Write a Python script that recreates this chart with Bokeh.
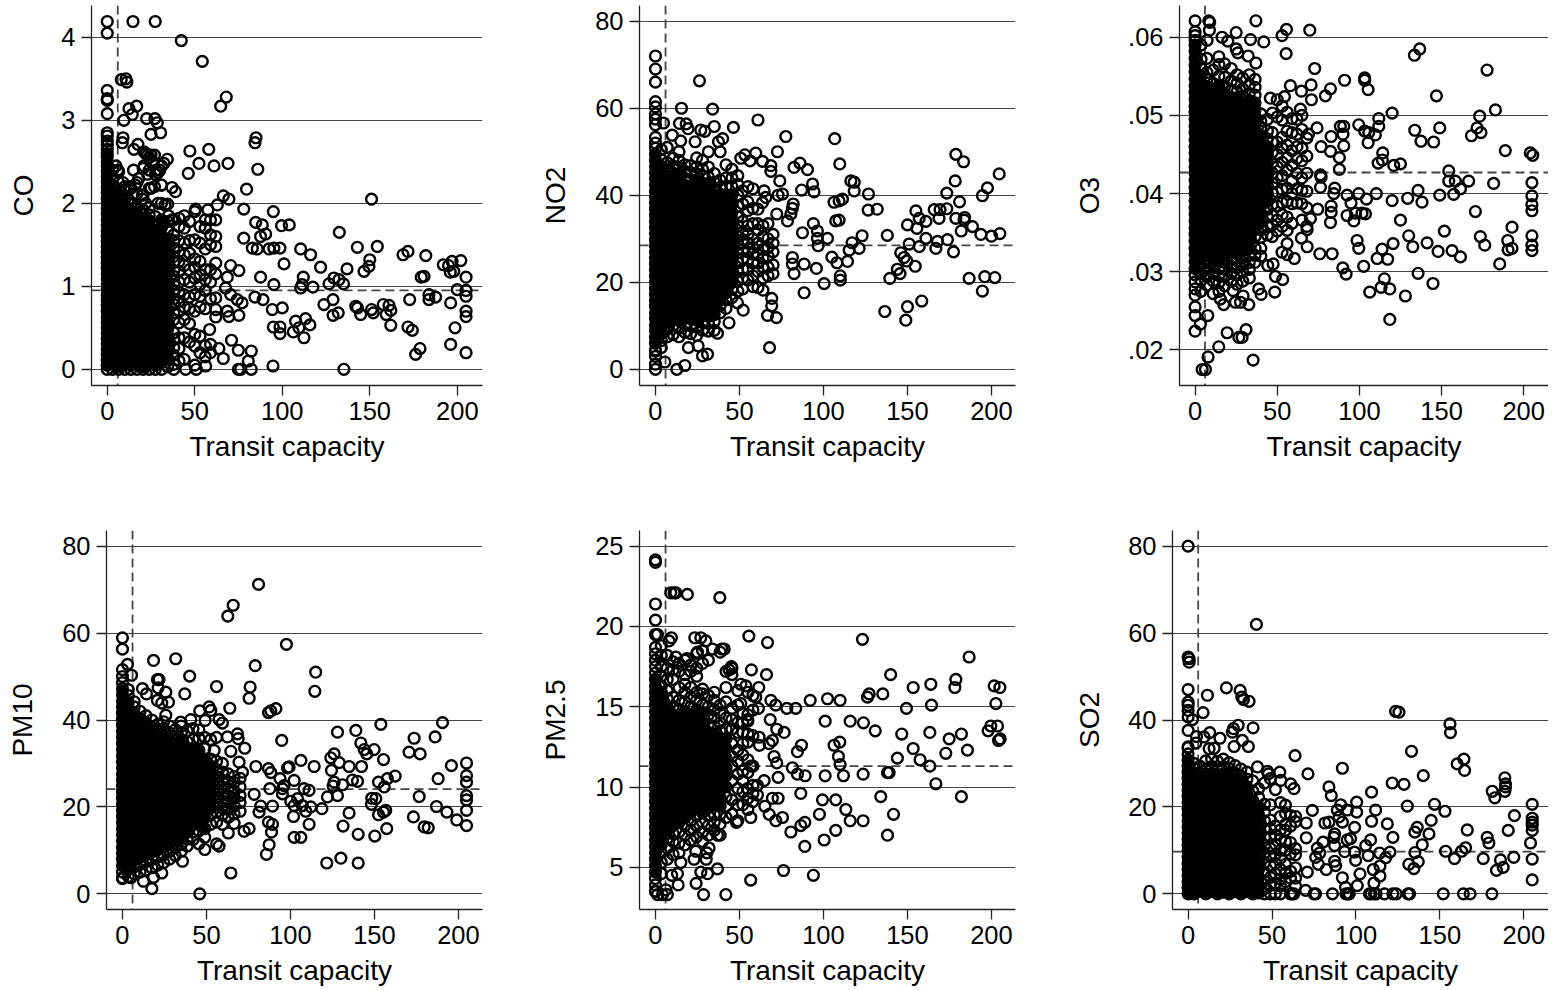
from bokeh.plotting import figure
from bokeh.layouts import column, row
from bokeh.embed import file_html
from bokeh.resources import INLINE
from bokeh.models import Span, FixedTicker

INK = "#000000"
XLABEL = "Transit capacity"
XT = [0, 50, 100, 150, 200]
FONT = "Liberation Sans"

# ---------- CO ----------
CO_x = [0,0,14.7,27.4,42.3,54.3,68,64.8,8,10.7,11.2,0,0,0,0,12.4,16.8,14.3,9.5,22.5,27.2,28.6,30.5,25,0,0,9,8.6,17.5,15.2,47.2,58,85,84.4,52.4,61,69,46.3,86,34.3,32.4,79.6,37,39,151,66.3,69.5,62.9,78,94.9,57.5,50.5,99.6,104,84.8,88.6,90.5,87.6,132.6,78,82.9,85.7,92.4,95.2,98.7,110.5,116.2,101,121.9,142.9,154.3,150,149.5,146.7,137,169,171.8,182,192,195,197,202,196,198,205,179.4,181,112,87.6,95.2,70.5,75.2,68.6,67.6,110.5,111.4,117.5,126.7,129.5,132.4,135,200,205,205,187.6,183.8,183.8,172.8,84.4,89,74.3,77,70.5,94.3,100,123.8,129,142,143,144.8,151,152,157.7,161,162,159.4,129,132,196.2,205,205,75.2,69.5,68.6,94.9,98.7,98.7,106.3,107.6,109.5,113.3,115.8,112.4,162,171.8,174.3,198.7,71,74.9,82.3,58.5,178.7,176.2,196.2,205,66.3,63.8,80.6,94.7,74.9,76.2,82.3,135.2,56.2,50.9,44.8,38,5,6,9,11,13,15,16,18,20,21,22,23,24,25,26,27,28,29,30,31,21,23,20,22,25,27,29,33,35,37,12,14,16,24]
CO_y = [4.19,4.05,4.19,4.19,3.96,3.71,3.28,3.17,3.49,3.5,3.46,3.36,3.26,3.24,3.08,3.14,3.17,3.07,3,3.02,3.02,2.97,2.85,2.83,2.85,2.81,2.79,2.73,2.71,2.65,2.63,2.65,2.79,2.73,2.48,2.45,2.48,2.36,2.41,2.53,2.48,2.17,2.19,2.14,2.05,2.09,2.05,1.98,1.93,1.9,1.92,1.93,1.73,1.74,1.77,1.74,1.63,1.6,1.65,1.58,1.46,1.45,1.45,1.46,1.46,1.45,1.38,1.27,1.23,1.47,1.48,1.32,1.24,1.18,1.21,1.38,1.42,1.37,1.26,1.25,1.3,1.31,1.17,1.18,1.11,1.11,1.12,1.11,1.11,1.02,1.25,1.19,1.11,.98,.98,1.02,.99,1.03,1.1,1.08,1.03,.96,.95,.88,.87,.9,.84,.84,.87,.84,.84,.8,.9,.72,.74,.78,.84,.76,.74,.66,.72,.68,.78,.77,.71,.66,.65,.68,.8,.7,.635,.65,.635,.7,.51,.51,.43,.45,.58,.5,.61,.535,.38,.53,.51,.47,.5,.35,.23,.22,.48,.25,.18,.3,.2,.13,.25,.1,.04,0,0,0,0,.04,0,0,0,2.45,2.4,2.25,2.15,2.2,2.4,2.22,2.3,2.1,2.62,2.6,2.58,2.55,2.58,2.5,2.58,2.4,2.37,2.4,2.22,2.45,2.35,2.05,2,2.18,2.2,2,1.98,1.85,1.8,2,2,1.95,1.95]
CO_col_x = [0,3,6.5,10,13.5,17,20.5,24,27.5,31,34.5,38,41,44,47,50,53,56,59,62]
CO_col_y = [
 [0,.05,.11,.18,.24,.31,.37,.44,.5,.57,.63,.7,.76,.83,.89,.96,1.02,1.09,1.15,1.22,1.28,1.35,1.41,1.48,1.54,1.61,1.67,1.74,1.8,1.87,1.93,2,2.06,2.13,2.19,2.26,2.32,2.39,2.45,2.5,2.56,2.6,2.65,2.7,2.75],
 [0,.09,.17,.26,.34,.43,.51,.6,.68,.77,.85,.94,1.02,1.11,1.19,1.28,1.36,1.45,1.53,1.62,1.7,1.79,1.87,1.96,2.04,2.13,2.21,2.3,2.4],
 [0,.04,.13,.21,.3,.38,.47,.55,.64,.72,.81,.89,.98,1.06,1.15,1.23,1.32,1.4,1.49,1.57,1.66,1.74,1.83,1.91,2,2.08,2.17,2.25,2.38],
 [0,.09,.16,.26,.33,.44,.5,.61,.67,.78,.84,.95,1.01,1.12,1.18,1.29,1.35,1.46,1.52,1.63,1.69,1.8,1.86,1.97,2.05,2.15,2.2],
 [0,.05,.14,.2,.31,.37,.48,.54,.65,.71,.82,.88,.99,1.05,1.16,1.22,1.33,1.39,1.5,1.56,1.67,1.73,1.84,1.9,2,2.18],
 [0,.08,.17,.25,.35,.42,.52,.59,.69,.76,.86,.93,1.03,1.1,1.2,1.27,1.37,1.44,1.54,1.61,1.71,1.78,1.88,1.96,2.12,2.25],
 [0,.03,.12,.21,.29,.39,.46,.56,.63,.73,.8,.9,.97,1.07,1.14,1.24,1.31,1.41,1.48,1.58,1.65,1.75,1.82,1.92,2.1,2.42],
 [0,.09,.16,.26,.33,.43,.5,.6,.67,.77,.84,.94,1.01,1.11,1.18,1.28,1.35,1.45,1.52,1.62,1.69,1.79,1.86,2.18,2.4],
 [0,.05,.14,.22,.31,.38,.48,.55,.65,.72,.82,.89,.99,1.06,1.16,1.23,1.33,1.4,1.5,1.57,1.67,1.74,1.84,2.35],
 [0,.08,.18,.25,.35,.42,.52,.59,.69,.76,.86,.93,1.03,1.1,1.2,1.27,1.37,1.44,1.54,1.61,1.71,1.8,2,2.22,2.45],
 [.03,.13,.21,.31,.38,.48,.55,.65,.72,.82,.89,.99,1.06,1.16,1.23,1.33,1.4,1.5,1.57,1.67,1.78,1.99],
 [.06,.17,.26,.36,.44,.6,.68,.78,.85,.95,1.02,1.12,1.19,1.29,1.36,1.46,1.55,1.62,1.8],
 [.1,.25,.38,.56,.7,.82,.93,1.05,1.18,1.3,1.42,1.55,1.72,1.82],
 [.12,.38,.6,.75,.9,1.08,1.25,1.38,1.52,1.7,1.85],
 [.33,.55,.73,.87,1.05,1.2,1.4,1.55,1.78],
 [.05,.28,.42,.7,.9,1.1,1.23,1.33,1.56,1.9],
 [.2,.4,.75,.88,1.02,1.14,1.3,1.52,1.72],
 [.15,.28,.73,.95,1.08,1.2,1.45,1.7,1.8],
 [.2,.3,.85,1.05,1.2,1.5,1.62,1.8],
 [.63,.72,.86,1.15,1.28,1.48,1.6,1.8],
]

# ---------- NO2 ----------
NO2_x = [0,0,0,0,0,0,0,0,4.8,15.5,34,26.2,61,46.4,35,14.3,18.3,19.4,27,29.4,10,15,23.6,40,37.5,77.6,106.7,178.8,183.4,72.6,59.7,53.2,50.8,56.3,63.7,68.7,68.7,82.5,86,90.5,109.7,204.6,74,178.4,116.3,118.3,118.3,93.5,94.4,87,126.8,197.6,194.6,173.4,75.6,73,64.7,63.7,65.7,106.3,109.3,111.3,181,82,81.5,132,126.6,155,165.9,169.4,173.4,168.8,72.2,80.6,78.6,107.3,109.3,157,161,178.8,184,183.7,150,155.6,94,87.5,96.4,182,188.7,193.7,200,205,138,123,102.4,96.4,161,151,157,117,167.9,173.8,166.9,121.2,115.3,96.8,177.4,146,148,149.6,154.6,144,145.6,139.5,105,108,114.3,81.5,81.5,88.5,95.8,82.5,110,110,100.4,186.7,196,202,194.6,88.5,158.5,150,149,136.5,69.2,69.2,66.7,72,52.2,48.8,43.8,36.9,67.9,19.6,25.4,28,31,17.5,12.7,5.6,0,0,0]
NO2_y = [72,69,66,61.5,60.3,58.7,57.5,56.2,56.6,60,59.8,66.3,57.3,55.6,55.8,56.5,56.4,55.3,55,54.7,53.8,52.5,52.3,53,52.3,53.5,53,49.4,47.7,50,49.7,49.3,48.5,47.9,47.8,46.8,45.5,46.4,47.4,45.9,47.2,44.9,43.3,43.3,43.3,43,41,42.6,40.8,41.2,40.3,41.7,39.9,40.5,40.3,40,41,38.3,39.5,38.4,38.7,39.1,38.5,38,37,36.8,36.6,36.4,36.7,36.7,36.9,34.7,35.7,35.7,34.1,34.1,34.3,34.7,34,34.7,34.9,34.3,33.2,32.4,33.5,31.4,31.8,31.8,32.8,31,30.6,31.2,30.8,30.7,30.1,30.1,30.1,28.8,28.2,29.1,29.4,29.8,27.8,27.8,27.4,28.4,27,26.8,25.7,24.9,23.7,23,22,20.9,25.8,24.5,24.8,25.7,24.2,24.2,23.2,22,21.5,20.5,19.7,20.9,21.3,21.1,18,17.6,15.7,14.4,11.3,13.3,16.3,14.6,12.4,11.9,13.6,15.3,10.7,8.3,5,5,5.4,3.1,3.5,.9,0,1.7,0,1.2,4.2]
NO2_col_x = [0,3.5,7,10.5,14,17.5,21,24.5,28,31.5,35,38.5,42,45.5,49,52,55,58,61,64,67,70]
NO2_col_y = [
 [3,4.5,6,7.4,8.9,10.2,11.7,13,14.5,15.8,17.2,18.6,20,21.4,22.8,24.2,25.6,27,28.4,29.8,31.2,32.6,34,35.4,36.8,38.2,39.6,41,42.4,43.8,45.2,46.6,48,49.4,50.8,52,53.3],
 [5,6.6,8.2,9.8,11.4,13,14.6,16.2,17.8,19.4,21,22.6,24.2,25.8,27.4,29,30.6,32.2,33.8,35.4,37,38.6,40.2,41.8,43.4,45,46.6,48.2,50.5],
 [7.5,9.2,10.7,12.3,13.9,15.5,17.1,18.7,20.3,21.9,23.5,25.1,26.7,28.3,29.9,31.5,33.1,34.7,36.3,37.9,39.5,41.1,42.7,44.3,45.9,47.5,51],
 [8,10,11.5,13.1,14.7,16.3,17.9,19.5,21.1,22.7,24.3,25.9,27.5,29.1,30.7,32.3,33.9,35.5,37.1,38.7,40.3,41.9,43.5,45.1,46.7,48.5],
 [7.5,9.5,11.2,12.8,14.4,16,17.6,19.2,20.8,22.4,24,25.6,27.2,28.8,30.4,32,33.6,35.2,36.8,38.4,40,41.6,43.2,44.8,46.4,48,50],
 [8.5,10.3,11.9,13.5,15.1,16.7,18.3,19.9,21.5,23.1,24.7,26.3,27.9,29.5,31.1,32.7,34.3,35.9,37.5,39.1,40.7,42.3,43.9,45.5,47],
 [8.2,10,11.6,13.2,14.8,16.4,18,19.6,21.2,22.8,24.4,26,27.6,29.2,30.8,32.4,34,35.6,37.2,38.8,40.4,42,43.6,45.2,46.8],
 [7.8,9.7,11.3,12.9,14.5,16.1,17.7,19.3,20.9,22.5,24.1,25.7,27.3,28.9,30.5,32.1,33.7,35.3,36.9,38.5,40.1,41.7,43.3,44.9,46.5,48.6],
 [9,10.8,12.4,14,15.6,17.2,18.8,20.4,22,23.6,25.2,26.8,28.4,30,31.6,33.2,34.8,36.4,38,39.6,41.2,42.8,44.4,46,48],
 [8.8,10.6,12.2,13.8,15.4,17,18.6,20.2,21.8,23.4,25,26.6,28.2,29.8,31.4,33,34.6,36.2,37.8,39.4,41,42.6,44.2,46.5,50],
 [9,11,12.6,14.2,15.8,17.4,19,20.6,22.2,23.8,25.4,27,28.6,30.2,31.8,33.4,35,36.6,38.2,39.8,41.4,43,45],
 [13,14.6,16.2,17.8,19.4,21,22.6,24.2,25.8,27.4,29,30.6,32.2,33.8,35.4,37,38.6,40.2,41.8,43.5,50],
 [14,16,17.6,19.2,20.8,22.4,24,25.6,27.2,28.8,30.4,32,33.6,35.2,36.8,38.4,40,42,44,47],
 [16.5,18.4,20,21.6,23.2,24.8,26.4,28,29.6,31.2,32.8,34.4,36,38,40,42,44,46],
 [18,20.2,22.5,24.5,26.8,28.7,30.5,33,35,37.5,40,42.5,44.5],
 [18.5,21,23,25.5,27.5,29.8,31.5,34,38,41],
 [20.5,23,25.2,27,29,31,33,36.5,38.5,42],
 [19,21.5,24.5,26.5,28,30,33.5,37,41.5],
 [18.8,22.5,24.5,26.3,29,32,33.5,36.8],
 [18.2,21,23.5,25.5,27.5,30.5,33],
 [21.5,23.5,26,28,30,33.5],
 [22,24,27,29,31],
]

# ---------- O3 (read in thousandths) ----------
O3_x = [0,8.3,8.9,8.7,37,55.6,69.8,52.9,25,16.4,19.9,33.7,41.8,7.3,25,26,32.3,55.4,37,136.7,133.5,177.7,72.8,91,103.2,103.2,105.3,58,70.6,64.7,82.4,79.3,70.8,45.8,54.4,146.9,182.8,119.9,111.8,173.2,64.1,99.6,88.4,90.5,111.8,74.2,103.2,105.7,109.7,133.7,148.9,171.6,174,168.2,90,82.8,69,137.5,145.2,105.3,90.5,76.7,82.4,87.8,114.2,188.8,204,205.5,114,111.4,120.9,125,87.8,154.4,154.4,158.4,166.5,181.7,205,161.5,135.7,85,84.4,76.3,76.7,76.3,99.6,110.3,92.5,148.9,157.4,205,129.4,138.1,104.3,94.9,119.9,205,82.8,74.6,82.8,82.4,92.5,97.6,101.6,103.7,96.6,170.6,205,125,70.2,68.2,192.9,151.7,130,173.6,205,98.6,190.3,64.7,56,56,120.5,99.6,113.8,132.5,141.2,176.3,205,192.9,190.5,205,68.2,75.9,83.4,147.9,156.4,161.5,110.8,117.2,60.4,56,52.9,47.5,44.2,185.4,89.9,91.9,102.6,135.7,48.9,53.3,115.2,113.2,118.5,106.3,144.8,128,48.5,38.7,40.2,118.5,23.1,29.2,32.7,27.6,24.5,17.4,15.4,0,0,7.7,3.2,0,19.5,31,26.6,28.6,14.4,7.9,4.3,6.3,35.3]
O3_y = [62.1,62.1,61.9,60.9,62.1,61,60.9,60.2,60.6,60,59.5,59.7,59.4,59.6,58.5,58,57.6,57.9,56.7,58.5,57.7,55.8,56,54.5,54.8,54.5,53.3,53.8,53.9,53.1,53.4,52.5,52,52.2,52.4,52.5,50.7,50.3,49.6,49.9,50.8,48.8,48.6,48.6,48.6,48.4,48,47.8,47.5,48.1,48.4,48.4,47.8,47.4,47.6,47.3,47.6,46.7,46.6,46.5,46.1,46,45.4,44.6,45.2,45.5,45.2,44.9,44.3,43.9,43.6,43.8,43.1,42.9,41.6,41.6,41.6,41.3,41.4,40.6,40.4,40.7,40,42.4,42.1,40.8,40,40,39.8,39.8,39.9,39.7,39.4,38.9,39.3,38.8,39.1,38.6,38.4,38,37.6,36.3,37.2,37.5,37.5,37.4,36.5,37.7,37.8,36.6,36.8,35.4,35.7,35.2,34.6,34.5,34.6,34,34,34.3,35.3,33.6,33.6,33,32.9,33.2,33.7,33.4,33.4,33,32.8,32.7,33.2,32.3,32.3,32.6,32.7,31.9,31.7,31.6,31.7,32.2,32.5,31,30.8,31,30.5,29.7,30.7,29.8,29.4,29,29.1,28,27.8,27.4,28.5,26.9,27.4,27.8,27.1,23.9,27.6,26.9,25.8,26.1,26.1,25.8,26.5,25.5,24.4,24.4,23.3,22.4,22.2,22.6,21.6,21.6,20.4,19.1,17.5,17.5,18.7]
O3_col_x = [0,3.6,7.2,11,14.5,18,22,25.5,29,33,36.5,40,44,47,50,53,56,59,62,65,68]
O3_col_y = [
 [27,27.8,28.7,29.6,30.4,31.3,32.2,33,33.9,34.8,35.6,36.5,37.4,38.2,39.1,40,40.8,41.7,42.6,43.4,44.3,45.2,46,46.9,47.8,48.6,49.5,50.4,51.2,52.1,53,53.8,54.7,55.6,56.4,57.3,58.2,59,59.6,60.2,60.7],
 [27.5,28.9,29.8,30.8,31.7,32.6,33.5,34.4,35.3,36.2,37.1,38,38.9,39.8,40.7,41.6,42.5,43.4,44.3,45.2,46.1,47,47.9,48.8,49.7,50.6,51.5,52.4,53.3,54.2,55.1,56,57.2,59],
 [28.3,29.4,30.3,31.2,32.1,33,33.9,34.8,35.7,36.6,37.5,38.4,39.3,40.2,41.1,42,42.9,43.8,44.7,45.6,46.5,47.4,48.3,49.2,50.1,51,51.9,52.8,53.7,54.6,55.5,57.3],
 [27.2,28.8,29.8,30.7,31.6,32.5,33.4,34.3,35.2,36.1,37,37.9,38.8,39.7,40.6,41.5,42.4,43.3,44.2,45.1,46,46.9,47.8,48.7,49.6,50.5,51.4,52.3,53.2,54.1,55.8],
 [27.5,28.6,29.5,30.4,31.3,32.2,33.1,34,34.9,35.8,36.7,37.6,38.5,39.4,40.3,41.2,42.1,43,43.9,44.8,45.7,46.6,47.5,48.4,49.3,50.2,51.1,52,52.9,53.8,55,56.5,57.5],
 [28.2,29.4,30.3,31.2,32.1,33,33.9,34.8,35.7,36.6,37.5,38.4,39.3,40.2,41.1,42,42.9,43.8,44.7,45.6,46.5,47.4,48.3,49.2,50.1,51,51.9,52.8,53.7,54.9,56.6],
 [28.8,29.8,30.7,31.6,32.5,33.4,34.3,35.2,36.1,37,37.9,38.8,39.7,40.6,41.5,42.4,43.3,44.2,45.1,46,46.9,47.8,48.7,49.6,50.5,51.4,52.3,53.2,54.4,56],
 [28.4,29.6,30.5,31.4,32.3,33.2,34.1,35,35.9,36.8,37.7,38.6,39.5,40.4,41.3,42.2,43.1,44,44.9,45.8,46.7,47.6,48.5,49.4,50.3,51.2,52.1,53,54.1,55.2],
 [28.8,30,30.9,31.8,32.7,33.6,34.5,35.4,36.3,37.2,38.1,39,39.9,40.8,41.7,42.6,43.5,44.4,45.3,46.2,47.1,48,48.9,49.8,50.7,51.6,52.5,53.4,54.8],
 [29.2,30.3,31.2,32.1,33,33.9,34.8,35.7,36.6,37.5,38.4,39.3,40.2,41.1,42,42.9,43.8,44.7,45.6,46.5,47.4,48.3,49.2,50.1,51,51.9,52.8,53.9,55.2],
 [31.2,32.1,33,34.5,35.4,36.3,37.2,38.1,39,39.9,40.8,41.7,42.6,43.5,44.4,45.3,46.2,47.1,48,48.9,49.8,50.7,51.6,52.6,53.6,54.6],
 [32,33,34.4,35.4,36.4,37.4,38.4,39.4,40.4,41.4,42.4,43.4,44.4,45.4,46.4,47.4,48.4,49.3,50.2],
 [34.7,35.8,37,38,39,40,41,42,43,44,45,46,47,48,49.5],
 [34.5,36,37.2,38.6,40,41.3,42.6,44,45.3,46.6,47.8,50.3],
 [35.2,36.6,38.4,40.2,42,43.4,45,46.6,49.8,52],
 [35.8,37.3,38.8,40.5,42.3,44,45.8,47.2,49.4,51.2],
 [37,39,40.7,43,44.6,46.2,48,50.4],
 [36.2,38.7,40,41.6,43.6,45.5,47.8,49.6],
 [38.8,40.6,42.6,44.5,46,47.6,49.5],
 [36.6,38.7,40.4,42,44.2,45.8,48.2,50],
 [35.8,38.2,40.3,42.6,44.8,47.1],
]

# ---------- PM10 ----------
PM10_x = [81,65.9,62.7,0,0,97.6,18.5,31.7,79,3,0,115,5.4,40,20.8,21.8,21.2,56,76,75.4,114.5,37.1,25.8,11.9,14.3,20.8,23.4,27.4,63.9,91.3,88.3,86.9,51.6,52.6,46,40.7,49.2,25.8,57.5,59.5,34.7,153.8,190.5,138.9,128,68.5,68.9,94.8,62.5,173.6,186.1,141.9,72.8,143.9,149.8,145.4,170.6,177.2,126,124,106.2,155.4,204.8,54.6,64.5,69.4,129,195.8,134.9,142.3,114.1,79.4,99.2,98.2,86.9,88.3,124.4,71.4,204.8,162.3,157.7,187.9,93.8,102.2,136.9,139.9,152.4,126,204.8,131,125.4,155.8,96.2,95.2,87.7,108.1,111.1,78.4,95.2,176.6,122,128,204.8,204.8,148.4,150.8,148.2,104.2,100.2,89.3,82.3,102.2,107.1,112.1,118.7,186.9,109.1,81.3,156.7,155.4,134.9,152.4,193.1,204.8,101.8,173.2,199,86.9,89.3,111.1,131.3,204.8,179.6,182,157.3,75.4,72.4,88.7,140.3,150.2,102.2,106.2,87.3,85.7,57.5,130,121.6,140.3,64.5,35.7,23.4,12.5,18.5,17.5,46,0,5]
PM10_y = [71.2,66.4,63.9,58.9,56.3,57.4,53.7,54.1,52.5,52.8,51.6,51,50.3,50.1,49.3,49.3,47.4,47.7,47.6,45,46.6,46,46.4,47.2,46,44.5,43.9,44.1,42.7,42.6,42.1,41.7,43,42.2,42.1,40.1,39.9,41.1,40.1,39.3,39.5,39,39.4,37.6,37.2,36.8,35.7,35.3,36.1,35.8,36.1,34.7,33.5,33.2,33.2,32.2,32.6,32.2,32.2,31.3,30.7,30.9,30.1,33,32.8,30.3,30.2,29.5,29.3,29.3,29.3,29.3,29.2,29,28.8,27.9,28.4,28,27.2,27.1,26.5,26.5,26.5,26.1,26.2,25.9,25.7,25.7,25.7,25.1,24.8,24.6,24.9,24.2,24.2,24.2,23.8,22.9,23,22.4,22.3,22.6,22.6,21.6,22,21.9,20.6,21.9,21.3,20.2,20.2,20.3,20.3,20,19.6,20.1,19,18.8,19.2,18.8,18.6,18.2,18.8,19.2,17.8,17.7,17,16.5,16,16,15.6,15.7,15.4,15.2,15,15,14.4,14.2,13.7,13.3,13,13,11.3,9.1,11,8.2,7.1,7.1,4.8,7.5,4.8,2.9,3.8,1.2,0,3.7,3.7]
PM10_col_x = [0,3.5,7,10.5,14,17.5,21,24.5,28,31.5,35,38.5,42,45.5,49,52.5,56,59.5,63,66.5,70]
PM10_col_y = [
 [3.5,5,6.5,8,9.4,10.8,12.2,13.6,15,16.4,17.8,19.2,20.6,22,23.4,24.8,26.2,27.6,29,30.4,31.8,33.2,34.6,36,37.4,38.8,40.2,41.6,43,44.4,45.8,47.2,48.6,50],
 [4,5.6,7.2,8.8,10.4,12,13.6,15.2,16.8,18.4,20,21.6,23.2,24.8,26.4,28,29.6,31.2,32.8,34.4,36,37.6,39.2,40.8,42.4,44,45.6,47],
 [4.6,6.2,7.8,9.4,11,12.6,14.2,15.8,17.4,19,20.6,22.2,23.8,25.4,27,28.6,30.2,31.8,33.4,35,36.6,38.2,39.8,41.4,43,44.2],
 [5,6.8,8.4,10,11.6,13.2,14.8,16.4,18,19.6,21.2,22.8,24.4,26,27.6,29.2,30.8,32.4,34,35.6,37.2,38.8,40.4,42],
 [5.5,7.4,9,10.6,12.2,13.8,15.4,17,18.6,20.2,21.8,23.4,25,26.6,28.2,29.8,31.4,33,34.6,36.2,37.8,39.4,41],
 [6,8,9.6,11.2,12.8,14.4,16,17.6,19.2,20.8,22.4,24,25.6,27.2,28.8,30.4,32,33.6,35.2,36.8,38.4,40],
 [6.6,8.5,10.2,11.8,13.4,15,16.6,18.2,19.8,21.4,23,24.6,26.2,27.8,29.4,31,32.6,34.2,35.8,37.4,39],
 [7.2,9,10.8,12.4,14,15.6,17.2,18.8,20.4,22,23.6,25.2,26.8,28.4,30,31.6,33.2,34.8,36.4,38,39.6],
 [8,9.8,11.4,13,14.6,16.2,17.8,19.4,21,22.6,24.2,25.8,27.4,29,30.6,32.2,33.8,35.4,37,38.6],
 [8.8,10.6,12.2,13.8,15.4,17,18.6,20.2,21.8,23.4,25,26.6,28.2,29.8,31.4,33,34.6,36.2,37.8],
 [9.8,11.4,13,14.6,16.2,17.8,19.4,21,22.6,24.2,25.8,27.4,29,30.6,32.2,33.8,35.4,37,38.6],
 [11,12.6,14.2,15.8,17.4,19,20.6,22.2,23.8,25.4,27,28.6,30.2,31.8,33.4,35,37.5],
 [12.5,14.2,15.8,17.4,19,20.6,22.2,23.8,25.4,27,28.6,30.2,31.8,33.4,35.5,38],
 [11.5,14.5,16.5,18.1,19.7,21.3,22.9,24.5,26.1,27.7,29.3,30.9,33,35.8,37.7],
 [10.2,13,15,17.5,19.4,21,22.6,24.2,25.8,27.4,29,31,33.4,36],
 [16,18.2,19.8,21.4,23,24.6,26.2,27.8,29.4,31,35.5],
 [11.5,16.5,18.8,20.6,22.2,23.8,25.4,27,28.6,30.5,36],
 [16,18.2,19.8,21.4,23,24.6,26.2,28,30],
 [14,17.6,19.4,21,22.6,24.2,25.8,27.6],
 [16.2,18.4,20.2,22,23.6,25.6,27],
 [19,21,22.6,24.6,26.6],
]

# ---------- PM2.5 ----------
PM25_x = [0,0,9.1,11.1,12.1,19,38.3,0,0,0,1.2,9.5,8.1,55.6,66.7,123.2,23.4,27,30,33.9,39.5,40.9,186.7,12.1,18.7,25,45.2,43.8,57.1,66.1,140,178.8,163.9,178.2,201.6,205,153.4,61.5,53.8,50.8,127.2,126.2,135.3,102.4,109.9,92.1,68.7,71.6,78.2,83.5,149.4,164.3,202.6,61.3,59.7,50.8,68.3,101,115.9,123.8,54.8,203.6,199.6,198,130.8,163.3,146.6,182.1,76.6,72.2,174.8,205.2,204.2,61.7,61.9,109.7,106.3,86.9,69.6,67.7,84.5,185.7,153.4,172.8,108.9,70.6,144,157.5,109.9,72.2,56.7,163.3,81.5,84.5,89.1,123.6,101,111.9,138.1,139.1,73,64.7,60.7,166.9,182.1,134.1,86.5,99.4,107.3,54.8,69.6,73,60.7,65.1,113.3,141.7,97.6,75.6,67.7,56.7,88.9,86.5,115.9,123.6,71.6,48.2,107.3,80.6,138.1,100.4,88.9,36.9,31.9,30.6,24,30.2,23,15.1,36.9,76.2,94,56.7,27,31,13.1,9.7,24.2,13.5,28.6,41.9,1.2,4.2,7.1,0,6.2]
PM25_y = [24.15,24,22.1,22.1,22.1,22,21.8,21.4,20.4,19.5,19.5,19.3,19.1,19.4,19,19.2,19.3,19.3,19.1,18.6,18.6,18.6,18.1,18.1,18,18.4,17.5,17.3,17.3,17,17,16.7,16.4,16.2,16.3,16.2,16.2,16.2,16.3,16.4,15.8,15.6,15.8,15.5,15.4,15.4,15.4,15.1,14.9,14.9,14.9,15.1,15.2,14.9,15.6,15.2,14.2,14.1,14.1,14,14.2,13.8,13.8,13.5,13.5,13.4,13.3,13.3,13.4,13.6,13,13,12.9,13.1,12.6,12.8,12.6,12.6,12.9,12.7,12.2,12.3,12.4,12.1,11.9,11.9,11.8,11.7,11.4,11.5,11.3,11.3,11.2,10.8,10.7,10.8,10.7,10.7,10.9,10.9,10.6,10.4,10.1,10.2,9.4,9.4,9.6,9.2,9.2,9.9,9.3,9.3,9.5,8.8,8.6,8.3,8.3,8.1,8.3,8.1,7.8,7.6,7.9,7.9,7.9,7.8,7.3,7.2,7,6.7,6.3,7,6.2,5.9,6,5.5,5.5,5.3,4.9,4.8,4.5,4.2,4.7,4.6,4.6,4.5,4,3.9,3.3,3.3,3.3,3.3,3.3,3.5,3.6]
PM25_col_x = [0,3.5,7,10.5,14,17.5,21,24.5,28,31.5,35,38.5,42,45.5,49,52,55,58]
PM25_col_y = [
 [3.5,3.9,4.3,4.7,5.1,5.5,5.9,6.3,6.7,7.1,7.5,7.9,8.3,8.7,9.1,9.5,9.9,10.3,10.7,11.1,11.5,11.9,12.3,12.7,13.1,13.5,13.9,14.3,14.7,15.1,15.5,15.9,16.3,16.7,17.1,17.5,17.9,18.3,18.7],
 [4.6,5.3,5.9,6.4,6.9,7.3,7.8,8.2,8.7,9.1,9.6,10,10.5,10.9,11.4,11.8,12.3,12.7,13.2,13.6,14.1,14.5,15,15.4,15.9,16.3,16.9,17.5,18.2,18.8],
 [5.5,6.2,6.8,7.3,7.8,8.2,8.7,9.1,9.6,10,10.5,10.9,11.4,11.8,12.3,12.7,13.2,13.6,14.1,14.5,15,15.5,16,16.7,17.4,18.2],
 [5.8,6.6,7.1,7.6,8.1,8.6,9,9.5,9.9,10.4,10.8,11.3,11.7,12.2,12.6,13.1,13.5,14,14.5,15,15.6,16.7,17.3,17.8],
 [5.9,6.5,7.2,7.8,8.3,8.8,9.2,9.7,10.1,10.6,11,11.5,11.9,12.4,12.8,13.3,13.7,14.3,14.8,15.4,16.2,17.2,17.7],
 [6.4,7,7.6,8.1,8.6,9.1,9.5,10,10.4,10.9,11.3,11.8,12.2,12.7,13.1,13.6,14.1,14.7,15.3,15.9,16.4,17,17.9],
 [6.7,7.3,7.9,8.4,8.9,9.3,9.8,10.2,10.7,11.1,11.6,12,12.5,12.9,13.4,13.9,14.4,15,15.6,16.2,17.2,17.6],
 [6.9,7.6,8.2,8.7,9.2,9.6,10.1,10.5,11,11.4,11.9,12.3,12.8,13.2,13.7,14.2,14.8,15.4,15.9,16.9,17.4,18.3],
 [6.6,7.2,7.8,8.4,8.9,9.4,9.9,10.3,10.8,11.2,11.7,12.1,12.6,13,13.5,14,14.6,15.1,15.8,16.1,17.7,18.5],
 [7,7.6,8.2,8.7,9.2,9.7,10.1,10.6,11,11.5,11.9,12.4,12.9,13.4,13.9,14.5,15,15.7,17.9],
 [7.3,7.8,8.3,8.9,9.4,9.9,10.4,10.9,11.3,11.8,12.3,12.8,13.3,13.8,14.3,14.8,15.4,15.9],
 [7,7.7,8.3,8.8,9.3,9.8,10.3,10.9,11.4,11.9,12.4,13,13.5,14,14.6,15.1,18.4],
 [8.1,8.8,9.4,10,10.7,11.2,11.8,12.4,13,13.6,14.3,15.3,16.2,17.2],
 [8.3,9.2,10.4,11.3,11.9,12.7,13.6,14.2,14.9,17.4,17],
 [7.9,8.9,9.9,10.8,11.6,12.3,13.4,14,15.1,16],
 [8.9,9.7,10.4,11,12,12.7,13.4,14,14.6],
 [8.6,9.3,10.9,11.7,12.8,13.3,14.1,14.5,15.9],
 [9.1,9.6,10.1,11.3,13.2,14.8,15.7],
]

# ---------- SO2 ----------
SO2_x = [0,40.7,0,.6,.6,0,22.8,11.5,31,32,33,36.3,0,0,0,8.9,123.6,125.6,2.6,0,156,156.3,29.8,27,26.4,38.7,0,12.9,5,9.5,19,32.3,15.5,12.5,27.4,35.9,4.6,0,133.1,63.7,164.3,160.3,164.7,91.9,41.3,47.2,47.8,54.6,71.4,55.2,61.1,63.1,140.1,188.7,189.1,189.1,188.7,121.6,128.6,83.9,85.3,181.2,182.7,109.3,90.9,100.4,205,130.6,146.8,88.9,94.8,111.7,74,100.4,153,194.4,205,205,205,205,144.8,89.9,91.9,109.3,81.5,83.9,118.7,70.4,99.2,136.5,135.1,166.3,190.7,143.5,122,87.3,86.9,70.4,108.7,96.8,94.8,178.2,179.2,204,80.4,105.8,87.3,139.5,77,165.3,162.9,153.4,135.1,93.3,99.2,78.4,120.2,114.1,107.3,117.7,194,205,175.8,158.7,186.1,99.8,87.3,76,137.1,131.5,77.6,87.9,114.3,110.3,134.5,82.3,187.7,183.7,71,102.4,114.3,91.9,205,110.7,100.8,93.8,70,62,63,75,76,86,94,95,96,108,109,111,112,117,122,124,131,132,152,164,168,181]
SO2_y = [80,62,54.5,54.1,53.3,47,47.4,45.7,46.8,45.3,44.7,44.3,44.1,43.4,42.2,41.7,42,41.8,40.1,40.7,39.1,37.1,38.8,38,37.2,38.2,37.6,37.1,36.2,36.1,35.8,35.3,33.5,33.4,33.9,33.9,34.7,33.8,32.8,31.8,31,29.9,28.4,28.9,29.2,28.2,27.6,28,27.6,26.1,25.3,24.2,27.2,26.7,25.3,24.6,23.6,25.5,25.2,24.6,22.6,23.6,22.1,23.4,20.5,21.1,20.6,20.2,20.6,19.3,19.3,19.3,19.2,18.8,19,18,17.4,16.5,15.8,14.6,16.9,17.7,16.5,16.7,16.3,16.5,16.1,16.3,15.3,15.3,14.2,14.7,14.6,13.8,13,13.8,13,12.9,12.4,12.7,12.4,13,11.7,11.7,11.9,11.1,11.1,11.3,10.5,10.6,9.8,9.8,9.5,9.7,9.6,9.4,9.6,9.4,8.8,8.3,8.4,8,8.1,8.1,7.8,7.7,7.5,8.4,7.4,6.8,6.8,6.5,6.4,5.6,5.8,5.6,6.1,5.4,5,4.6,4.1,3.7,3.2,2.5,1.9,1.5,.8,0,0,0,0,0,0,0,0,0,0,0,0,0,0,0,0,0,0,0,0,0]
SO2_col_x = [0,3.5,7,10.5,14,17.5,21,24.5,28,31.5,35,38.5,42,45.5,49,52,55,58,61,64]
SO2_col_y = [
 [0,1.4,2.8,4.2,5.6,7,8.4,9.8,11.2,12.6,14,15.4,16.8,18.2,19.6,21,22.4,23.8,25.2,26.6,28,29.4,30.8,32.2,33.6],
 [0,1.6,3.2,4.8,6.4,8,9.6,11.2,12.8,14.4,16,17.6,19.2,20.8,22.4,24,25.6,27.2,28.8,30],
 [.6,2.2,3.8,5.4,7,8.6,10.2,11.8,13.4,15,16.6,18.2,19.8,21.4,23,24.6,26.2,27.8,29.4],
 [0,1.5,3.1,4.7,6.3,7.9,9.5,11.1,12.7,14.3,15.9,17.5,19.1,20.7,22.3,23.9,25.5,27.1,28.7,30.6],
 [.5,2.1,3.7,5.3,6.9,8.5,10.1,11.7,13.3,14.9,16.5,18.1,19.7,21.3,22.9,24.5,26.1,27.7,29.3,31],
 [0,1.4,3,4.6,6.2,7.8,9.4,11,12.6,14.2,15.8,17.4,19,20.6,22.2,23.8,25.4,27,28.6,30.5],
 [.4,2,3.6,5.2,6.8,8.4,10,11.6,13.2,14.8,16.4,18,19.6,21.2,22.8,24.4,26,27.6,29.2,31],
 [0,1.6,3.2,4.8,6.4,8,9.6,11.2,12.8,14.4,16,17.6,19.2,20.8,22.4,24,25.6,27.2,28.8,30.2],
 [.5,2.1,3.7,5.3,6.9,8.5,10.1,11.7,13.3,14.9,16.5,18.1,19.7,21.3,22.9,24.5,26.1,27.7,29.5],
 [0,1.5,3.1,4.7,6.3,7.9,9.5,11.1,12.7,14.3,15.9,17.5,19.1,20.7,22.3,23.9,25.5,27.1,28.7],
 [.5,2.2,3.8,5.4,7,8.6,10.2,11.8,13.4,15,16.6,18.2,19.8,21.4,23,24.6,26.4,28],
 [0,1.6,3.2,4.8,6.4,8,9.6,11.2,12.8,14.4,16,17.6,19.2,21.5,23.6,26],
 [.2,2,3.8,5.6,7.4,9.2,11,12.8,14.6,16.4,18.2,20,22.2,24.2],
 [0,1.2,3,5,7.2,9.4,11.2,13,15,16.8,18.8,20.6,25.5],
 [0,2,3.8,6.4,8.6,10.4,13,15,17,20.5,26.5],
 [0,2.5,4.6,7,9,11.4,13.5,15.6,24],
 [0,1.8,3.4,5.6,8.2,10,12.6,14.7,17.8,21],
 [2.8,4.7,6.8,10,12,14.6,16,18.5,20.4],
 [0,3.6,5.2,9.2,11.8,15.6,18],
 [1.8,3.6,6,9,10.4,16.6,17.8],
]


def flat(px, py, cx, cy):
    xs, ys = list(px), list(py)
    for x, col in zip(cx, cy):
        xs += [x] * len(col)
        ys += col
    return xs, ys


def core(cx, cy, ncols, lo, hi):
    # rings stacked so closely in the cloud that their centres close up
    xs, ys = [], []
    for x, col in zip(cx[:ncols], cy[:ncols]):
        inner = col[lo:len(col) - hi]
        xs += [x] * len(inner)
        ys += inner
    return xs, ys


def panel(ylab, xr, yr, yt, ov, lb, rb, fw, hx, tb, bb, fh, xs, ys, stand, cxs, cys):
    p = figure(width=lb+fw+rb, height=tb+fh+bb, x_range=xr, y_range=yr, output_backend="svg",
               toolbar_location=None, min_border_left=lb, min_border_right=rb, min_border_top=tb,
               min_border_bottom=bb, outline_line_color=None, background_fill_color="white")
    p.xgrid.visible = False
    p.ygrid.ticker = FixedTicker(ticks=yt)
    p.ygrid.grid_line_color = "#444444"
    p.ygrid.grid_line_width = 1.2
    p.xaxis.ticker = FixedTicker(ticks=XT)
    p.yaxis.ticker = FixedTicker(ticks=yt)
    if ov:
        p.yaxis.major_label_overrides = ov
    p.xaxis.axis_label = XLABEL
    p.yaxis.axis_label = ylab
    for a in (p.xaxis[0], p.yaxis[0]):
        a.axis_label_text_font = FONT
        a.major_label_text_font = FONT
        a.axis_label_text_font_size = "28px"
        a.major_label_text_font_size = "25.5px"
        a.axis_label_text_font_style = "normal"
        a.axis_label_text_color = INK
        a.major_label_text_color = INK
        a.axis_line_color = "#222222"
        a.axis_line_width = 1.3
        a.major_tick_line_color = "#222222"
        a.major_tick_line_width = 1.3
        a.major_tick_out = 10
        a.major_tick_in = 0
        a.minor_tick_line_color = None
    p.xaxis[0].major_label_standoff = 6
    p.xaxis[0].axis_label_standoff = 8
    p.yaxis[0].major_label_standoff = 6
    p.yaxis[0].axis_label_standoff = stand
    p.yaxis[0].major_label_orientation = "horizontal"
    p.add_layout(Span(location=hx, dimension="width", line_color="#444444", line_dash="9 5", line_width=1.8, level="underlay"))
    p.add_layout(Span(location=6, dimension="height", line_color="#444444", line_dash="9 5", line_width=1.8, level="underlay"))
    p.scatter(xs, ys, size=10.8, fill_color=None, line_color=INK, line_width=2.4)
    p.scatter(cxs, cys, size=9, fill_color=INK, line_color=None)
    return p


cx, cy = flat(CO_x, CO_y, CO_col_x, CO_col_y)
nx, ny = flat(NO2_x, NO2_y, NO2_col_x, NO2_col_y)
ox, oy = flat(O3_x, O3_y, O3_col_x, O3_col_y)
oy = [v / 1000 for v in oy]
px, py = flat(PM10_x, PM10_y, PM10_col_x, PM10_col_y)
qx, qy = flat(PM25_x, PM25_y, PM25_col_x, PM25_col_y)
sx, sy = flat(SO2_x, SO2_y, SO2_col_x, SO2_col_y)
c1 = core(CO_col_x, CO_col_y, 11, 1, 3)
c2 = core(NO2_col_x, NO2_col_y, 14, 2, 3)
c3 = core(O3_col_x, O3_col_y, 13, 4, 3)
c3 = (c3[0], [v / 1000 for v in c3[1]])
c4 = core(PM10_col_x, PM10_col_y, 16, 2, 2)
c5 = core(PM25_col_x, PM25_col_y, 13, 3, 5)
c6 = core(SO2_col_x, SO2_col_y, 13, 0, 2)

O3_ticks = [.02, .03, .04, .05, .06]
O3_labels = {.02: ".02", .03: ".03", .04: ".04", .05: ".05", .06: ".06"}
p1 = panel("CO", (-9, 214.4), (-.195, 4.383), [0,1,2,3,4], None, 91, 28, 391, .95, 5, 135, 380, cx, cy, 19, *c1)
p2 = panel("NO2", (-9.5, 214.3), (-3.7, 83.6), [0,20,40,60,80], None, 129, 30, 376, 28.5, 5, 135, 380, nx, ny, 21, *c2)
p3 = panel("O3", (-9.5, 215.1), (.01545, .06406), O3_ticks, O3_labels, 134, 0, 369, .0427, 5, 135, 380, ox, oy, 20, *c3)
p4 = panel("PM10", (-9.5, 214.3), (-3.6, 83.6), [0,20,40,60,80], None, 106, 28, 376, 24.1, 10, 80, 379, px, py, 21, *c4)
p5 = panel("PM2.5", (-9.5, 214.3), (2.37, 25.98), [5,10,15,20,25], None, 129, 30, 376, 11.3, 10, 80, 379, qx, qy, 21, *c5)
p6 = panel("SO2", (-9.3, 214.7), (-3.6, 83.6), [0,20,40,60,80], None, 127, 0, 376, 9.7, 10, 80, 379, sx, sy, 20, *c6)
lay = column(row(p1, p2, p3, spacing=0), row(p4, p5, p6, spacing=0), spacing=0)
open("out.html", "w").write(file_html(lay, INLINE))
